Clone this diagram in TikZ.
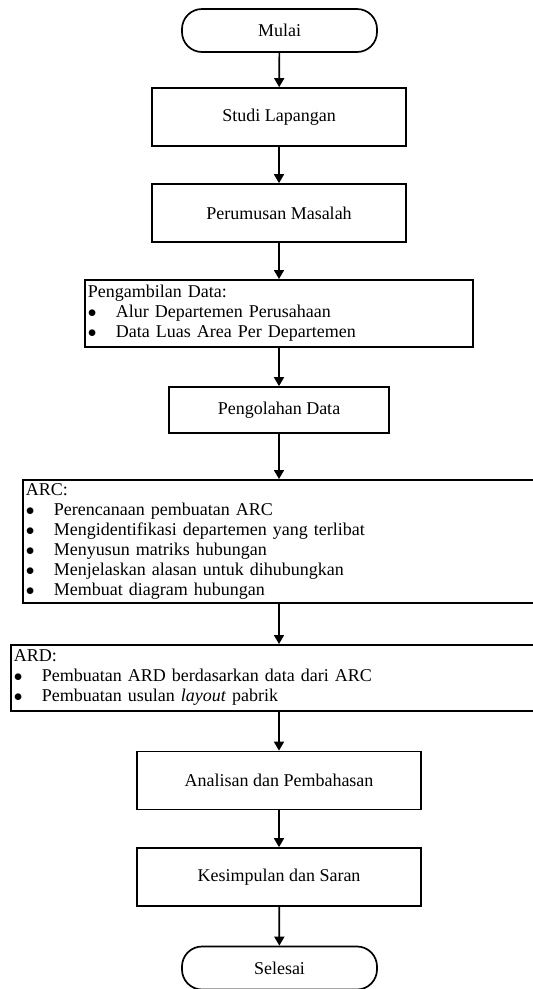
\documentclass[tikz,border=0pt]{standalone}
\usepackage{fontspec}
\setmainfont{Liberation Serif}
\usetikzlibrary{arrows.meta}
\tikzset{
    every node/.style={rectangle, draw, line width=1.7pt, inner sep=3pt,
    	font=\fontsize{18}{20}\selectfont}
}
\tikzset{
    every edge/.append style={line width=1.7pt, -{Triangle[length=9pt,width=10pt]}}
}
\tikzset{
	terminal/.style={rounded corners=20pt, minimum width=195pt, minimum height=43pt},
	process/.style={minimum height=58pt},
	listbox/.style={anchor=north west, align=left}
}
\newcommand{\bulletitem}[1]{\makebox[28pt][l]{$\bullet$}#1}

\begin{document}
\begin{tikzpicture}[x=1pt, y=-1pt]
  \useasboundingbox (0,0) rectangle (533,989);
  \node (0) [terminal] at (279.5, 30.5) {Mulai};
  \node (1) [process, minimum width=254pt] at (279, 117) {Studi Lapangan};
  \node (2) [process, minimum width=254pt] at (279, 213) {Perumusan Masalah};
  \node (3) [listbox, text width=382pt, minimum height=67pt] at (84, 279)
    {Pengambilan Data:\\
     \bulletitem{Alur Departemen Perusahaan}\\
     \bulletitem{Data Luas Area Per Departemen}};
  \node (4) [minimum width=220pt, minimum height=46pt] at (279, 410) {Pengolahan Data};
  \node (5) [listbox, text width=517pt, minimum height=123pt] at (22, 479)
    {ARC:\\
     \bulletitem{Perencanaan pembuatan ARC}\\
     \bulletitem{Mengidentifikasi departemen yang terlibat}\\
     \bulletitem{Menyusun matriks hubungan}\\
     \bulletitem{Menjelaskan alasan untuk dihubungkan}\\
     \bulletitem{Membuat diagram hubungan}};
  \node (6) [listbox, text width=529pt, minimum height=66pt] at (10, 644)
    {ARD:\\
     \bulletitem{Pembuatan ARD berdasarkan data dari ARC}\\
     \bulletitem{Pembuatan usulan \textit{layout} pabrik}};
  \node (7) [process, minimum width=284pt] at (279, 780.5) {Analisan dan Pembahasan};
  \node (8) [process, minimum width=284pt] at (279, 877) {Kesimpulan dan Saran};
  \node (9) [terminal] at (279.5, 968) {Selesai};

  \draw (0) edge (1); \draw (1) edge (2); \draw (2) edge (2 |- 3.north);
  \draw (3.south -| 4) edge (4); \draw (4) edge (4 |- 5.north);
  \draw (5.south -| 4) edge (6.north -| 4);
  \draw (6.south -| 7) edge (7);
  \draw (7) edge (8); \draw (8) edge (9);
\end{tikzpicture}
\end{document}
